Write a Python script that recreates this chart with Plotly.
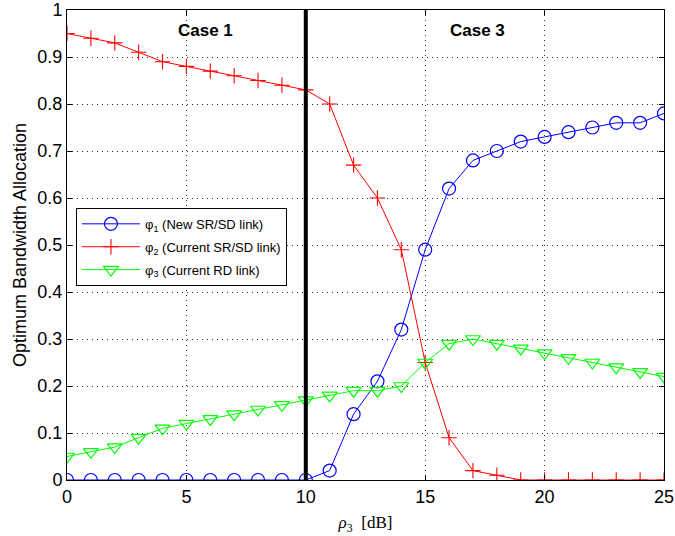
import plotly.graph_objects as go

rho3 = list(range(0, 26))
phi1 = [0, 0, 0, 0, 0, 0, 0, 0, 0, 0, 0, 0.02, 0.14, 0.21, 0.32, 0.49, 0.62, 0.68, 0.70, 0.72, 0.73, 0.74, 0.75, 0.76, 0.76, 0.78]
phi2 = [0.95, 0.94, 0.93, 0.91, 0.89, 0.88, 0.87, 0.86, 0.85, 0.84, 0.83, 0.80, 0.67, 0.60, 0.49, 0.25, 0.09, 0.02, 0.01, 0, 0, 0, 0, 0, 0, 0]
phi3 = [0.05, 0.06, 0.07, 0.09, 0.11, 0.12, 0.13, 0.14, 0.15, 0.16, 0.17, 0.18, 0.19, 0.19, 0.20, 0.25, 0.29, 0.30, 0.29, 0.28, 0.27, 0.26, 0.25, 0.24, 0.23, 0.22]
names = ["φ<sub>1</sub> (New SR/SD link)", "φ<sub>2</sub> (Current SR/SD link)", "φ<sub>3</sub> (Current RD link)"]
boundary_x = 10
case_labels = ["Case 1", "Case 3"]
case_x = [5.8, 17.2]
case_y = 0.957

fig = go.Figure()
fig.add_trace(go.Scatter(x=rho3, y=phi1, name=names[0], mode="lines+markers", legendgroup="a",
                         line=dict(color="#0000ff", width=1),
                         marker=dict(symbol="circle-open", size=13, color="#0000ff", line=dict(width=1.2))))
fig.add_trace(go.Scatter(x=rho3, y=phi2, name=names[1], mode="lines+markers", legendgroup="b",
                         line=dict(color="#ff0000", width=1),
                         marker=dict(symbol="cross-thin-open", size=11, color="#ff0000", line=dict(width=1.1, color="#ff0000"))))
fig.add_trace(go.Scatter(x=rho3, y=phi3, name=names[2], mode="lines+markers", legendgroup="c",
                         line=dict(color="#00ff00", width=1),
                         marker=dict(symbol="triangle-down-open", size=13, color="#00ff00", line=dict(width=1.2))))
fig.add_trace(go.Scatter(x=[boundary_x, boundary_x], y=[0, 1], mode="lines",
                         line=dict(color="black", width=4), showlegend=False, hoverinfo="skip"))

for lab, cx in zip(case_labels, case_x):
    fig.add_annotation(x=cx, y=case_y, text="<b>" + lab + "</b>", showarrow=False,
                       font=dict(size=17, color="black", family="Liberation Sans"))

axis_common = dict(showline=True, linecolor="black", linewidth=1, mirror="ticks",
                   ticks="inside", ticklen=5, tickcolor="black",
                   showgrid=True, gridcolor="#333333", griddash="1px,4px", gridwidth=1,
                   zeroline=False, ticklabeloverflow="allow", automargin=False,
                   tickfont=dict(size=18, color="black", family="Liberation Sans"))

fig.update_xaxes(range=[0, 25], tickvals=[0, 5, 10, 15, 20, 25], **axis_common,
                 title=dict(text="<i>ρ</i><sub>3</sub>  [dB]", font=dict(size=17, family="Liberation Serif", color="black"), standoff=10))
fig.update_yaxes(range=[0, 1], tickvals=[0, 0.1, 0.2, 0.3, 0.4, 0.5, 0.6, 0.7, 0.8, 0.9, 1],
                 ticktext=["0", "0.1", "0.2", "0.3", "0.4", "0.5", "0.6", "0.7", "0.8", "0.9", "1"], **axis_common,
                 title=dict(text="Optimum Bandwidth Allocation", font=dict(size=18, family="Liberation Sans", color="black"), standoff=6))

fig.update_layout(width=675, height=536, plot_bgcolor="white", paper_bgcolor="white",
                  margin=dict(l=67, r=11, t=10, b=56, autoexpand=False),
                  font=dict(family="Liberation Sans", color="black"),
                  legend=dict(x=0.015, y=0.579, xanchor="left", yanchor="top",
                              bgcolor="white", bordercolor="black", borderwidth=1,
                              font=dict(size=13, family="Liberation Sans", color="black"),
                              tracegroupgap=3, itemwidth=58))

fig.write_html("out.html", config={"displayModeBar": False},
               post_script="document.body.style.margin='0';")
